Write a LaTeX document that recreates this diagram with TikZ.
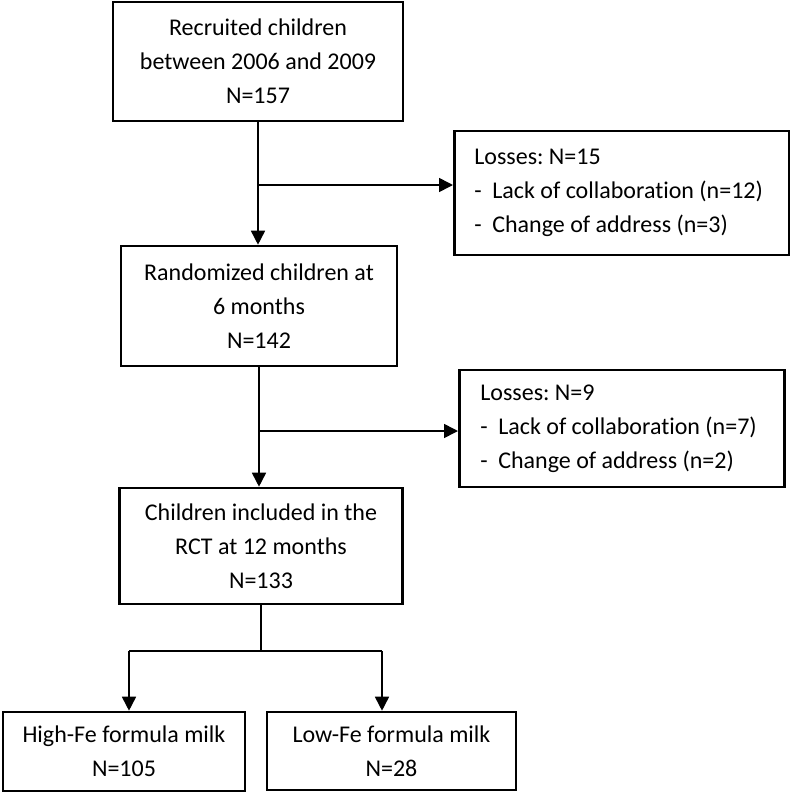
\documentclass[tikz,border=0pt]{standalone}
\usepackage{fontspec}
\setmainfont{Carlito}[Ligatures=NoCommon]
\usetikzlibrary{arrows.meta}
\frenchspacing
\begin{document}
\begin{tikzpicture}[x=1pt,y=-1pt,
  box/.style={draw, line width=2.6pt, inner sep=0pt, align=center, font=\fontsize{24}{34}\selectfont},
  lossbox/.style={draw, line width=2.6pt, inner sep=0pt, font=\fontsize{24}{34}\selectfont},
  conn/.style={line width=1.6pt},
  arr/.style={conn, -{Triangle[length=14pt,width=14pt]}}]
\useasboundingbox (0,0) rectangle (790,793);
\node[box, minimum width=290, minimum height=119] (b1) at (258,61.5) {Recruited children\\between 2006 and 2009\\N=157};
\node[box, minimum width=276, minimum height=120] (b2) at (259,306) {Randomized children at\\6 months\\N=142};
\node[box, minimum width=283, minimum height=116] (b3) at (261,546) {Children included in the\\RCT at 12 months\\N=133};
\node[box, minimum width=242, minimum height=79] (b4) at (124,751.5) {High-Fe formula milk\\N=105};
\node[box, minimum width=249, minimum height=78] (b5) at (391.5,751) {Low-Fe formula milk\\N=28};
\node[lossbox, minimum width=335, minimum height=124, anchor=west] (l1) at (453,193) {\parbox{335pt}{\raggedright\leftskip=20pt Losses: N=15\\\makebox[18pt][l]{-}Lack of collaboration (n=12)\\\makebox[18pt][l]{-}Change of address (n=3)}};
\node[lossbox, minimum width=325, minimum height=117, anchor=west] (l2) at (458,428.5) {\parbox{325pt}{\raggedright\leftskip=21pt Losses: N=9\\\makebox[18pt][l]{-}Lack of collaboration (n=7)\\\makebox[18pt][l]{-}Change of address (n=2)}};
% connectors
\draw[arr] (b1.south) -- (b1.south |- b2.north);
\coordinate (j1) at (258,185);
\draw[arr] (j1) -- (j1 -| l1.west);
\draw[arr] (b2.south) -- (b2.south |- b3.north);
\coordinate (j2) at (259,431);
\draw[arr] (j2) -- (j2 -| l2.west);
\coordinate (s1) at (129,651);
\coordinate (s2) at (382,651);
\draw[conn] (b3.south) -- (b3.south |- s1);
\draw[conn] (s1) -- (s2);
\draw[arr] (s1) -- (s1 |- b4.north);
\draw[arr] (s2) -- (s2 |- b5.north);
\end{tikzpicture}
\end{document}
